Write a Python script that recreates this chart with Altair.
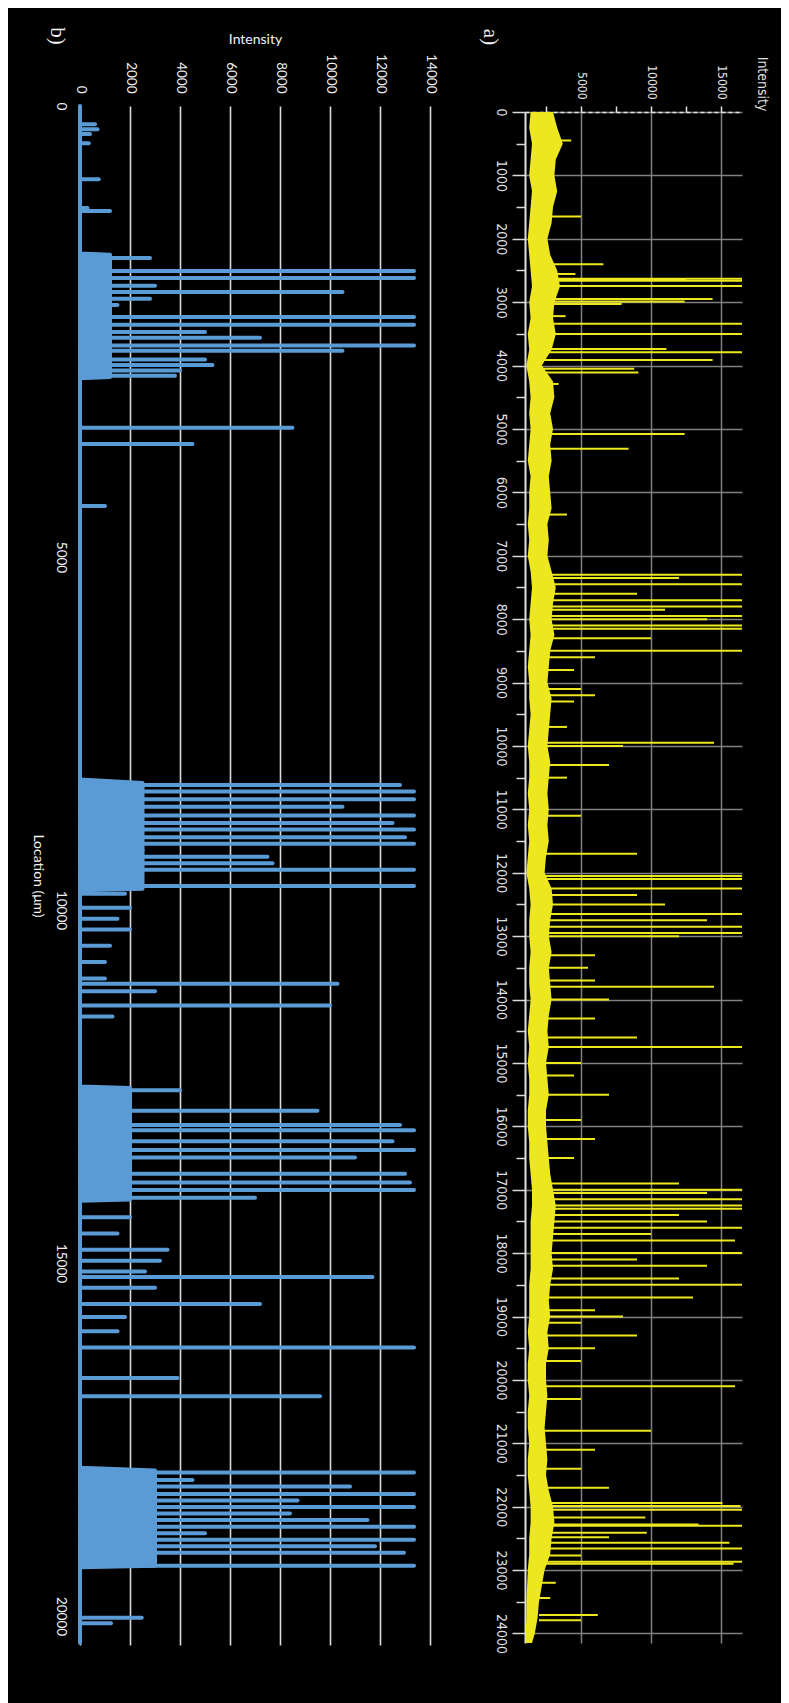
import altair as alt
import pandas as pd

YEL = "#ece71f"
BLUE = "#5b9bd5"
NARROW = "Liberation Sans Narrow, DejaVu Sans Condensed, Liberation Sans"
LATO = "Lato"

# ---------------- panel a (yellow trace) ----------------
a_loc = list(range(0, 24001, 250)) + [24150]
a_high = [3000, 3300, 3700, 3200, 3100, 3300, 3000, 2900, 2600,
          2800, 3300, 3500, 3100, 3000, 3200, 2900, 2200,
          3000, 3100, 2800, 3000, 2800, 2900, 2700, 2800,
          2900, 2600, 2700, 2600, 2900, 3200, 3000, 2900,
          3100, 2800, 2700, 2600, 2900, 2800, 2700, 2600,
          2800, 2700, 2600, 2700, 2600, 2700, 2500, 2400,
          2900, 3000, 2800, 2700, 2900, 2700, 2800, 2900,
          2700, 2600, 2700, 2500, 2600, 2700, 2500, 2500,
          2600, 2700, 2800, 3000, 3200, 3100, 3000, 2900,
          3000, 2800, 2700, 2800, 2600, 2700, 2500, 2500,
          2600, 2500, 2400, 2500, 2600, 2500, 2700, 3000,
          3100, 2900, 2800, 2400, 2200, 2000, 1900, 1700,
          1500]
a_low = [1400, 1300, 1500, 1400, 1300, 1500, 1400, 1300, 1200,
         1300, 1400, 1500, 1300, 1400, 1200, 1300, 1100,
         1300, 1400, 1300, 1400, 1300, 1200, 1400, 1300,
         1300, 1200, 1300, 1200, 1400, 1500, 1400, 1300,
         1400, 1300, 1200, 1300, 1300, 1400, 1300, 1200,
         1300, 1300, 1200, 1300, 1200, 1300, 1200, 1100,
         1300, 1400, 1300, 1300, 1400, 1300, 1300, 1400,
         1300, 1200, 1300, 1200, 1300, 1300, 1200, 1200,
         1300, 1300, 1400, 1500, 1500, 1400, 1400, 1400,
         1400, 1300, 1300, 1300, 1200, 1300, 1200, 1200,
         1300, 1200, 1200, 1300, 1200, 1200, 1300, 1400,
         1400, 1300, 1300, 1200, 1150, 1100, 1100, 1050,
         1050]

a_spike_loc = [450, 1650, 2400, 2555, 2630, 2650, 2660, 2745, 2950, 2990, 3030,
               3220, 3340, 3500, 3740, 3790, 3910, 4050, 4110, 4290, 5080, 5310,
               6350, 7300, 7350, 7450, 7600, 7700, 7800, 7850, 7950, 8000, 8100,
               8150, 8300, 8500, 8600, 8800, 9100, 9200, 9300, 9700, 9950, 10000,
               10300, 10500, 11100, 11700, 12050, 12100, 12250, 12350, 12500,
               12650, 12750, 12850, 12950, 13000, 13300, 13500, 13700, 13800,
               14000, 14300, 14600, 14750, 15000, 15200, 15500, 15900, 16200,
               16500, 16900, 17000, 17050, 17150, 17250, 17300, 17400, 17500,
               17600, 17700, 17800, 18000, 18100, 18200, 18400, 18500, 18700,
               18900, 19000, 19100, 19300, 19500, 19700, 20100, 20300, 20800,
               21100, 21400, 21700, 21940, 21990, 22050, 22170, 22280, 22300,
               22410, 22480, 22570, 22660, 22770, 22870, 22900, 23200, 23440,
               23710, 23790]
a_spike_peak = [4300, 5000, 6600, 4600, 16600, 12500, 16600, 16600, 14400, 12400, 7900,
                3900, 16600, 16600, 11100, 16600, 14400, 8800, 9100, 3400, 12400, 8400,
                4000, 16600, 12000, 16600, 9000, 16600, 16600, 11000, 16600, 14000, 16600,
                16600, 10000, 16600, 6000, 4500, 5000, 6000, 4500, 4000, 14500, 8000,
                7000, 4000, 5000, 9000, 16600, 16600, 16600, 9000, 11000,
                16600, 14000, 16600, 16600, 12000, 6000, 5500, 6000, 14500,
                7000, 6000, 9000, 16600, 5000, 4500, 7000, 5000, 6000,
                4500, 12000, 16600, 14000, 16600, 16600, 16600, 12000, 14000,
                16600, 10000, 16000, 16600, 9000, 14000, 12000, 16600, 13000,
                6000, 8000, 5000, 9000, 6000, 5000, 16000, 5000, 10000,
                6000, 5000, 7000, 15100, 16400, 16600, 9600, 13400, 16600,
                9700, 7000, 15600, 16600, 5000, 16600, 15900, 3200, 2800,
                6200, 5000]

a_major = list(range(0, 24001, 1000))
a_minor = list(range(500, 24001, 1000))
a_int_major = [5000, 10000, 15000]
a_int_minor = [2500, 7500, 12500]

# ---------------- panel b (blue trace) ----------------
b_fill_loc = [-1388, 700, 720, 2450, 2470, 8150, 8200, 9700, 9720, 12500, 12520,
              14100, 14120, 17900, 17940, 19290, 19310, 20380]
b_fill_val = [0, 0, 1200, 1200, 0, 0, 2500, 2500, 0, 0, 2000,
              2000, 0, 0, 3000, 3000, 0, 0]

b_spike_loc = [-1131, -1060, -990, -862, -352, 58, 101,
               766, 894, 950, 1049, 1157, 1248, 1341, 1432, 1602, 1711, 1814, 1895,
               2003, 2079, 2203, 2279, 2357, 2433, 3171, 3400, 4278,
               8231, 8323, 8431, 8539, 8662, 8769, 8861, 8969, 9061, 9153, 9245,
               9339, 9431, 9554, 9661, 9769, 9969, 10123, 10276, 10507, 10738,
               10969, 11046, 11152, 11352, 11507,
               12552, 12844, 13044, 13121, 13275, 13398, 13506, 13736, 13859,
               13967, 14075, 14352, 14582,
               14813, 14967, 15120, 15197, 15351, 15582, 15766, 15966, 16197,
               16628, 16889,
               17966, 18073, 18166, 18273, 18365, 18458, 18550, 18642, 18735,
               18827, 18919, 19011, 19103, 19196, 19288, 20026, 20103]
b_spike_peak = [600, 700, 400, 350, 750, 300, 1200,
                2800, 1000, 13360, 13360, 3000, 10500, 2800, 1500, 13360, 13360, 5000, 7200,
                13360, 10500, 5000, 5300, 4000, 3800, 8500, 4500, 1000,
                12800, 13360, 13360, 10500, 13360, 12500, 13360, 13000, 13360, 2500, 7500,
                7700, 13360, 2300, 13360, 1800, 2000, 1500, 2000, 1200, 1000,
                1000, 10300, 3000, 10000, 1300,
                4000, 9500, 12800, 13360, 12500, 13360, 11000, 13000, 13200,
                13360, 7000, 2000, 1500,
                3500, 3200, 2600, 11700, 3000, 7200, 1800, 1500, 13360,
                3900, 9600,
                13360, 4500, 10800, 13360, 8700, 13360, 8400, 11500, 13360,
                5000, 13360, 11800, 12960, 3000, 13360, 2470, 1240]

b_loc_ticks = [-1388, 5000, 10000, 15000, 20000]
b_int_ticks = list(range(0, 14001, 2000))
panel_tags = ["a)", "b)"]

# ---------------- sizes ----------------
W_B, H_B = 350, 1539
W_A, H_A = 217, 1537

# ---------------- panel b ----------------
bx = alt.Scale(domain=[0, 14000], nice=False, zero=False)
by = alt.Scale(domain=[-1388, 20411], range=[0, H_B], nice=False, zero=False)

by_axis = alt.Axis(
    values=b_loc_ticks, labelExpr="datum.value < 0 ? '0' : format(datum.value, 'd')",
    labelAngle=90, labelAlign="center", labelBaseline="top", labelPadding=13,
    ticks=False, tickSize=0, domain=False, grid=False,
    labelColor="#f2f2f2", labelFont=LATO, labelFontSize=13.5,
    title="Location (μm)", titleAngle=90, titleBaseline="top", titlePadding=9,
    titleColor="#f2f2f2", titleFont=LATO, titleFontSize=14, titleFontWeight="normal")
bx_axis = alt.Axis(
    orient="top", values=b_int_ticks, format="d",
    labelAngle=90, labelAlign="right", labelBaseline="middle", labelPadding=13,
    ticks=False, tickSize=0, domain=False, grid=True,
    gridColor="#d9d9d9", gridWidth=1.6,
    labelColor="#f2f2f2", labelFont=LATO, labelFontSize=13.5,
    title="Intensity", titleColor="#f2f2f2", titleFont=LATO, titleFontSize=14,
    titleFontWeight="normal", titlePadding=7)

b_fill_df = pd.DataFrame({"loc": b_fill_loc, "val": b_fill_val})
b_sp_df = pd.DataFrame({"loc": b_spike_loc, "peak": b_spike_peak})

b_fill = alt.Chart(b_fill_df).mark_area(
    orient="horizontal", color=BLUE, stroke=BLUE, strokeWidth=4, strokeJoin="round"
).encode(
    y=alt.Y("loc:Q", scale=by, axis=by_axis),
    x=alt.X("val:Q", scale=bx, axis=bx_axis),
)
b_spikes = alt.Chart(b_sp_df).mark_rule(color=BLUE, strokeWidth=4, strokeCap="round").encode(
    y=alt.Y("loc:Q", scale=by, axis=by_axis),
    x=alt.X("peak:Q", scale=bx, axis=bx_axis),
    x2=alt.datum(0),
)
b_tag = alt.Chart(pd.DataFrame({"t": [panel_tags[1]]})).mark_text(
    font="Liberation Serif", fontSize=21, angle=90, color="#f2f2f2",
    align="center", baseline="middle"
).encode(text="t:N", x=alt.value(-23), y=alt.value(-70))

panel_b = alt.layer(b_fill, b_spikes, b_tag).properties(width=W_B, height=H_B)

# ---------------- panel a ----------------
ax = alt.Scale(domain=[1000, 16500], nice=False, zero=False)
ay = alt.Scale(domain=[0, 24150], range=[6, H_A], nice=False, zero=False)

a_band_df = pd.DataFrame({"loc": a_loc, "low": a_low, "high": a_high})
a_sp_df = pd.DataFrame({"loc": a_spike_loc, "peak": a_spike_peak})

a_band = alt.Chart(a_band_df).mark_area(orient="horizontal", color=YEL, clip=True).encode(
    y=alt.Y("loc:Q", scale=ay, axis=alt.Axis(
        orient="left", values=a_major, format="d", tickSize=13, tickWidth=1.5,
        tickColor="#d9d9d9", labelAngle=90, labelAlign="center", labelBaseline="top",
        labelPadding=5, domain=True, domainColor="#e0e0e0", domainWidth=2,
        grid=True, gridColor="#808080", gridWidth=1.5, title=None,
        labelFont=NARROW, labelFontSize=14, labelColor="#e0e0e0")),
    x=alt.X("low:Q", scale=ax, axis=alt.Axis(
        orient="top", values=a_int_major, format="d", tickSize=6, tickWidth=1.5,
        tickColor="#e0e0e0", offset=-6, labelAngle=90, labelAlign="right",
        labelBaseline="middle", labelPadding=7, domain=True, domainDash=[4, 3],
        domainColor="#e0e0e0", domainWidth=1.5, grid=True, gridColor="#808080",
        gridWidth=1.5, labelFont=NARROW, labelFontSize=12, labelColor="#e0e0e0",
        title="Intensity", titleAngle=90, titleAlign="right", titleBaseline="middle",
        titleX=236, titleY=-1, titleFont=NARROW, titleFontSize=14,
        titleFontWeight="normal", titleColor="#e0e0e0")),
    x2="high:Q",
)
a_spikes = alt.Chart(a_sp_df).mark_rule(color=YEL, strokeWidth=2, clip=True).encode(
    y=alt.Y("loc:Q", scale=ay, axis=alt.Axis(
        orient="left", values=a_minor, tickSize=9, tickWidth=1.5, tickColor="#d9d9d9",
        labels=False, domain=False, grid=False, title=None)),
    x=alt.X("peak:Q", scale=ax, axis=alt.Axis(
        orient="top", values=a_int_minor, tickSize=6, tickWidth=1.5, tickColor="#e0e0e0",
        offset=-6, labels=False, domain=False, grid=False, title=None)),
    x2=alt.datum(2000),
)
a_tag = alt.Chart(pd.DataFrame({"t": [panel_tags[0]]})).mark_text(
    font="Liberation Serif", fontSize=21, angle=90, color="#f2f2f2",
    align="center", baseline="middle"
).encode(text="t:N", x=alt.value(-35), y=alt.value(-69))

panel_a = alt.layer(a_band, a_spikes, a_tag).resolve_axis(
    x="independent", y="independent").properties(width=W_A, height=H_A)

chart = alt.hconcat(panel_b, panel_a, spacing=95, bounds="flush").properties(
    background="black",
    padding={"left": 22, "top": 19, "right": 13, "bottom": 51},
).configure_view(stroke=None)

chart.save("out.html", embed_options={"renderer": "svg", "actions": False})
